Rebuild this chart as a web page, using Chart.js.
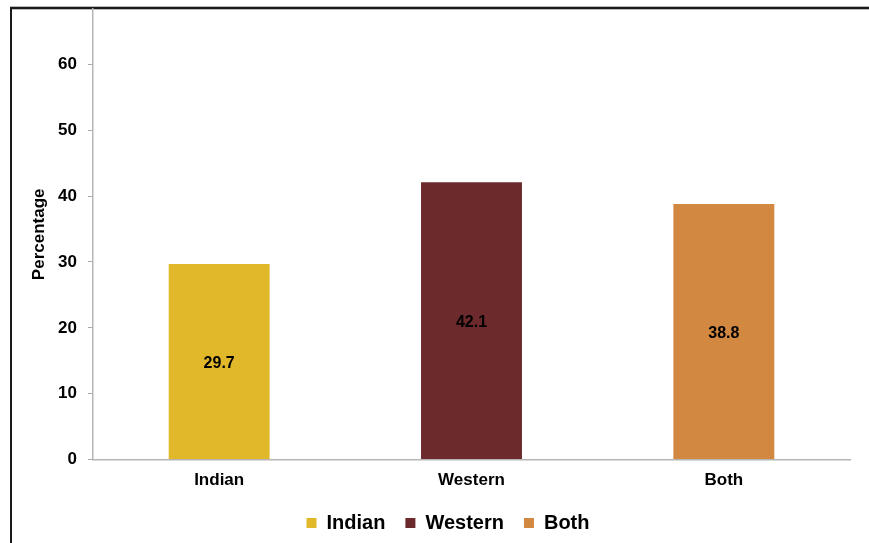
<!DOCTYPE html>
<html>
<head>
<meta charset="utf-8">
<script src="https://cdn.jsdelivr.net/npm/chart.js@4/dist/chart.umd.min.js"></script>
<style>
html,body{margin:0;padding:0;background:#fff;overflow:hidden;}
#wrap{position:relative;width:869px;height:543px;}
</style>
</head>
<body>
<div id="wrap"><canvas id="c" width="869" height="543"></canvas></div>
<script>
const categories = ["Indian", "Western", "Both"];
const seriesNames = ["Indian", "Western", "Both"];
const indianValues = [29.7, null, null];
const westernValues = [null, 42.1, null];
const bothValues = [null, null, 38.8];
const yTicks = [0, 10, 20, 30, 40, 50, 60];
const colors = ["#E2B82B", "#6C2A2C", "#D38842"];

const FONT = "'Liberation Sans', Arial, sans-serif";

const framePlugin = {
  id: 'frame',
  beforeDraw(chart) {
    const ctx = chart.ctx;
    ctx.save();
    ctx.fillStyle = '#bbb';
    ctx.fillRect(10, 6, 869, 4);
    ctx.fillStyle = '#1a1a1a';
    ctx.fillRect(10, 7, 869, 2);
    ctx.fillRect(10, 7, 2, 543);
    ctx.restore();
  }
};

const legendShift = {
  id: 'legendShift',
  afterLayout(chart) {
    if (chart.legend) { chart.legend.left += 23; chart.legend.right += 23; }
  }
};

const labelPlugin = {
  id: 'barLabels',
  afterDatasetsDraw(chart) {
    const ctx = chart.ctx;
    ctx.save();
    ctx.font = "bold 16px " + FONT;
    ctx.fillStyle = '#000';
    ctx.textAlign = 'center';
    ctx.textBaseline = 'middle';
    chart.data.datasets.forEach((ds, i) => {
      const meta = chart.getDatasetMeta(i);
      meta.data.forEach((el, j) => {
        const v = ds.data[j];
        if (v === null || v === undefined) return;
        ctx.fillText(v.toFixed(1), el.x, (el.y + el.base) / 2 + 2);
      });
    });
    ctx.restore();
  }
};

new Chart(document.getElementById('c'), {
  type: 'bar',
  data: {
    labels: categories,
    datasets: [
      { label: seriesNames[0], data: indianValues, backgroundColor: colors[0], skipNull: true },
      { label: seriesNames[1], data: westernValues, backgroundColor: colors[1], skipNull: true },
      { label: seriesNames[2], data: bothValues, backgroundColor: colors[2], skipNull: true }
    ]
  },
  options: {
    responsive: false,
    animation: false,
    devicePixelRatio: 1,
    datasets: { bar: { categoryPercentage: 0.8, barPercentage: 0.5 } },
    layout: { padding: { top: 9, right: 19, left: 0, bottom: 0 } },
    plugins: {
      tooltip: { enabled: false },
      legend: {
        position: 'bottom',
        labels: {
          font: { family: FONT, size: 20, weight: 'bold' },
          color: '#000',
          boxWidth: 10,
          boxHeight: 10,
          padding: 20
        }
      }
    },
    scales: {
      x: {
        afterFit(scale) { scale.height = scale.height - 9; },
        grid: { display: false, drawTicks: false, tickLength: 0 },
        border: { display: true, color: '#b5b5b5', width: 1.5 },
        ticks: { font: { family: FONT, size: 17, weight: 'bold' }, color: '#000', padding: 11 }
      },
      y: {
        min: 0,
        max: 68.4,
        afterBuildTicks(scale) { scale.ticks = yTicks.map(v => ({ value: v })); },
        afterFit(scale) { scale.width = 93; scale.paddingTop = 0; },
        grid: { drawOnChartArea: false, color: '#aaa', tickLength: 5 },
        border: { display: true, color: '#b5b5b5', width: 1.5 },
        ticks: { font: { family: FONT, size: 17, weight: 'bold' }, color: '#000', padding: 11 },
        title: {
          display: true,
          text: 'Percentage',
          font: { family: FONT, size: 17, weight: 'bold' },
          color: '#000',
          padding: { top: 29, bottom: 0 }
        }
      }
    }
  },
  plugins: [framePlugin, legendShift, labelPlugin]
});
</script>
</body>
</html>
